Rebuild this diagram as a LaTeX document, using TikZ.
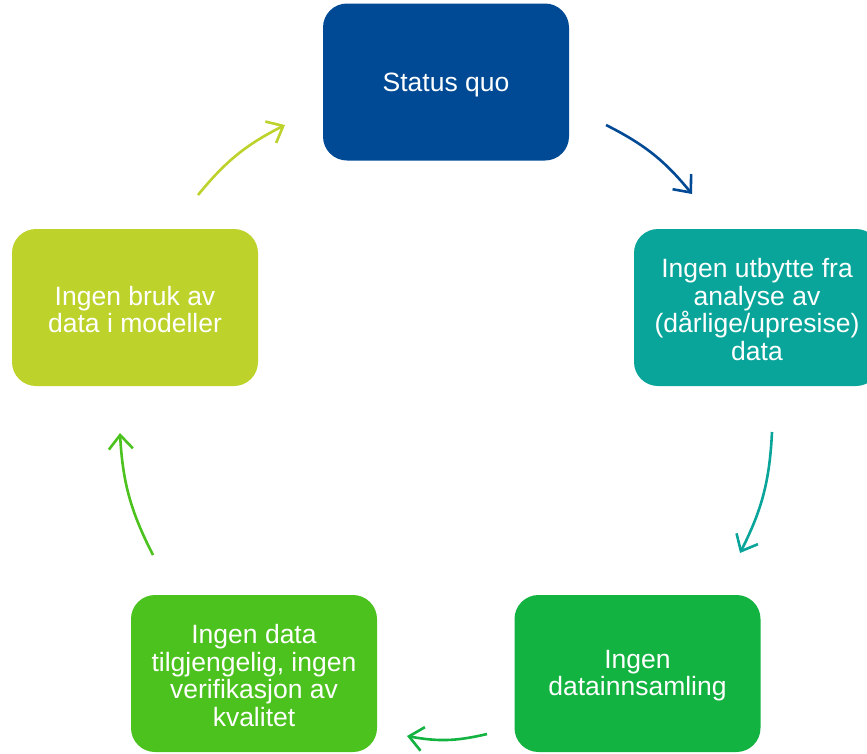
\documentclass[tikz,border=0pt]{standalone}
\usepackage{fontspec}
\setmainfont{Liberation Sans}
\usetikzlibrary{arrows.meta}
\definecolor{cblue}{HTML}{004A95}
\definecolor{cteal}{HTML}{0AA59A}
\definecolor{cgreen}{HTML}{12B340}
\definecolor{clgreen}{HTML}{4CC21E}
\definecolor{cyellow}{HTML}{BDD22A}
\tikzset{
  box/.style={rounded corners=24pt, minimum width=246pt, minimum height=157pt, inner sep=0pt},
  txt/.style={text=white, align=center, font=\fontsize{26.5pt}{27.5pt}\selectfont, inner sep=0pt},
  cyc/.style={line width=2.6pt, -{Straight Barb[length=14pt,width=24pt,line width=2.6pt]}, bend left=12}
}
\begin{document}
\begin{tikzpicture}[x=1pt,y=-1pt]
\useasboundingbox (0,0) rectangle (867,753);
\begin{scope}
\clip (0,0) rectangle (867,753);
\node[box, fill=cblue] (sq) at (446,82) {};
\node[box, fill=cteal] (ua) at (757,307.5) {};
\node[box, fill=cgreen] (di) at (637.5,673.5) {};
\node[box, fill=clgreen] (dt) at (254,673.5) {};
\node[box, fill=cyellow] (bm) at (135,307.5) {};
\end{scope}
\node[txt] (sqt) at ([yshift=-3pt]sq.center) {Status quo};
\node[txt] (uat) at ([yshift=-2pt]ua.center) {Ingen utbytte fra\\analyse av\\(dårlige/upresise)\\data};
\node[txt] (dit) at ([yshift=-2pt]di.center) {Ingen\\datainnsamling};
\node[txt] (dtt) at ([yshift=-2pt]dt.center) {Ingen data\\tilgjengelig, ingen\\verifikasjon av\\kvalitet};
\node[txt] (bmt) at ([yshift=-2pt]bm.center) {Ingen bruk av\\data i modeller};
\coordinate (a1s) at (606,125); \coordinate (a1e) at (692,194);
\coordinate (a2s) at (772,432); \coordinate (a2e) at (740,553);
\coordinate (a3s) at (487,734); \coordinate (a3e) at (407,736);
\coordinate (a4s) at (153,555); \coordinate (a4e) at (120,433);
\coordinate (a5s) at (198,195); \coordinate (a5e) at (285,125);
\draw[cyc, cblue] (a1s) to (a1e);
\draw[cyc, cteal] (a2s) to (a2e);
\draw[cyc, cgreen] (a3s) to (a3e);
\draw[cyc, clgreen] (a4s) to (a4e);
\draw[cyc, cyellow] (a5s) to (a5e);
\end{tikzpicture}
\end{document}
